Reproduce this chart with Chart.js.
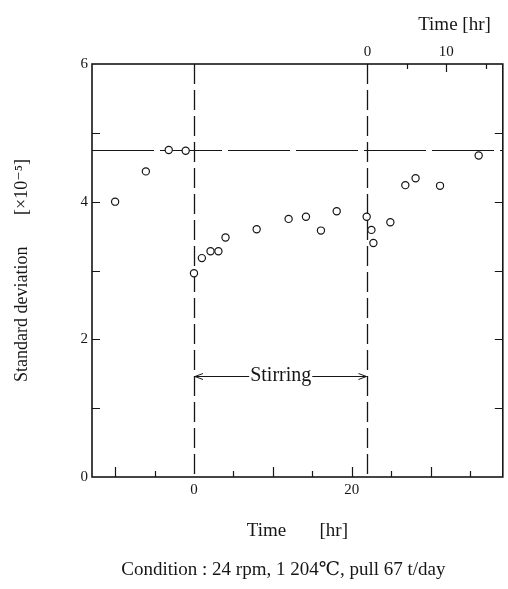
<!DOCTYPE html>
<html>
<head>
<meta charset="utf-8">
<script src="https://cdn.jsdelivr.net/npm/chart.js@4/dist/chart.umd.min.js"></script>
<style>
  html, body { margin: 0; padding: 0; background: #fff; }
  canvas { display: block; }
</style>
</head>
<body>
<canvas id="chart" width="508" height="589"></canvas>
<script>
// sampling time [hr] and standard deviation [x10^-5]
const times  = [-10, -6.1, -3.2, -1.05, 0, 1, 2.1, 3.1, 4, 7.95, 12, 14.2, 16.1, 18.1, 21.9, 22.5, 22.75, 24.9, 26.8, 28.1, 31.2, 36.1];
const stdDev = [4.0, 4.44, 4.75, 4.74, 2.96, 3.18, 3.28, 3.28, 3.48, 3.60, 3.75, 3.78, 3.58, 3.86, 3.78, 3.59, 3.40, 3.70, 4.24, 4.34, 4.23, 4.67];

const bottomTickLabels = [0, 20];
const topTickLabels = [0, 10];
const leftTickLabels = [0, 2, 4, 6];
const bottomTicks = [-10, -5, 5, 10, 15, 20, 25, 30, 35];
const topTicks = [5, 10, 15];
const sideTicks = [1, 2, 3, 4, 5];

const stirStart = 0;
const stirEnd = 22;      // top axis restarts at end of stirring
const baseLevel = 4.75;  // level before stirring
const stirLabelLevel = 1.47;

const xMin = -12.93, xMax = 39.16;
const serif = '"Liberation Serif", "DejaVu Serif", serif';
const ink = '#161616';

const decorations = {
  id: 'decorations',
  beforeDatasetsDraw(chart) {
    const { ctx, chartArea: a, scales } = chart;
    const x = scales.x, x2 = scales.x2, y = scales.y;
    ctx.save();
    ctx.strokeStyle = ink;

    // dashed reference lines
    ctx.lineWidth = 1.3;
    ctx.setLineDash([20, 6]);
    [stirStart, stirEnd].forEach(t => {
      const px = Math.round(x.getPixelForValue(t)) + 0.5;
      ctx.beginPath();
      ctx.moveTo(px, a.top);
      ctx.lineTo(px, a.bottom);
      ctx.stroke();
    });
    ctx.lineWidth = 1.1;
    ctx.setLineDash([62, 6]);
    const py = Math.round(y.getPixelForValue(baseLevel)) + 0.5;
    ctx.beginPath();
    ctx.moveTo(a.left, py);
    ctx.lineTo(a.right, py);
    ctx.stroke();
    ctx.setLineDash([]);

    // inward tick marks
    ctx.lineWidth = 1.2;
    ctx.beginPath();
    bottomTicks.forEach(t => {
      const px = Math.round(x.getPixelForValue(t)) + 0.5;
      const len = t % 10 === 0 ? 10 : 6;
      ctx.moveTo(px, a.bottom);
      ctx.lineTo(px, a.bottom - len);
    });
    topTicks.forEach(t => {
      const px = Math.round(x2.getPixelForValue(t)) + 0.5;
      const len = t % 10 === 0 ? 8 : 5;
      ctx.moveTo(px, a.top);
      ctx.lineTo(px, a.top + len);
    });
    sideTicks.forEach(v => {
      const p = Math.round(y.getPixelForValue(v)) + 0.5;
      ctx.moveTo(a.left, p);
      ctx.lineTo(a.left + 8, p);
      ctx.moveTo(a.right, p);
      ctx.lineTo(a.right - 8, p);
    });
    ctx.stroke();

    // frame
    ctx.lineWidth = 1.6;
    ctx.strokeRect(a.left, a.top, a.right - a.left, a.bottom - a.top);
    ctx.restore();
  },
  afterDraw(chart) {
    const { ctx, chartArea: a, scales } = chart;
    const x = scales.x, y = scales.y;
    ctx.save();
    ctx.fillStyle = ink;
    ctx.strokeStyle = ink;

    // stirring period arrow
    const x0 = x.getPixelForValue(stirStart) + 1;
    const x1 = x.getPixelForValue(stirEnd) - 1;
    const ay = Math.round(y.getPixelForValue(stirLabelLevel)) + 0.5;
    ctx.font = '20px ' + serif;
    ctx.textAlign = 'center';
    ctx.textBaseline = 'middle';
    const label = 'Stirring';
    const mid = (x0 + x1) / 2;
    const half = ctx.measureText(label).width / 2 + 1;
    ctx.fillText(label, mid, ay - 1);
    ctx.lineWidth = 1;
    ctx.beginPath();
    ctx.moveTo(x0, ay); ctx.lineTo(mid - half, ay);
    ctx.moveTo(mid + half, ay); ctx.lineTo(x1, ay);
    ctx.moveTo(x0 + 8, ay - 3); ctx.lineTo(x0, ay); ctx.lineTo(x0 + 8, ay + 3);
    ctx.moveTo(x1 - 8, ay - 3); ctx.lineTo(x1, ay); ctx.lineTo(x1 - 8, ay + 3);
    ctx.stroke();

    // top axis caption
    ctx.font = '19px ' + serif;
    ctx.textAlign = 'right';
    ctx.fillText('Time [hr]', a.right - 12, 25);

    // experiment condition
    ctx.textAlign = 'center';
    ctx.fillText('Condition : 24 rpm, 1 204\u2103, pull 67 t/day', (a.left + a.right) / 2 - 14, 570);
    ctx.restore();
  }
};

new Chart(document.getElementById('chart'), {
  type: 'scatter',
  data: {
    datasets: [{
      data: times.map((t, i) => ({ x: t, y: stdDev[i] })),
      xAxisID: 'x',
      yAxisID: 'y',
      pointStyle: 'circle',
      pointRadius: 3.6,
      pointBorderWidth: 1.2,
      pointBorderColor: ink,
      pointBackgroundColor: '#fff',
      showLine: false
    }]
  },
  options: {
    responsive: false,
    animation: false,
    layout: { padding: { left: 0, right: 1, top: 0, bottom: 0 } },
    plugins: { legend: { display: false }, tooltip: { enabled: false } },
    scales: {
      x: {
        type: 'linear',
        position: 'bottom',
        min: xMin,
        max: xMax,
        afterFit: s => { s.height = 112; },
        grid: { display: false, drawTicks: false },
        border: { display: false },
        ticks: {
          stepSize: 5,
          autoSkip: false,
          maxRotation: 0,
          padding: 4,
          color: ink,
          font: { family: serif, size: 15 },
          callback: v => bottomTickLabels.includes(v) ? String(v) : ''
        },
        title: {
          display: true,
          text: 'Time       [hr]',
          color: ink,
          font: { family: serif, size: 19 },
          padding: { top: 0, bottom: 47 }
        }
      },
      x2: {
        type: 'linear',
        position: 'top',
        min: xMin - stirEnd,
        max: xMax - stirEnd,
        afterFit: s => { s.height = 64; },
        grid: { display: false, drawTicks: false },
        border: { display: false },
        ticks: {
          stepSize: 5,
          autoSkip: false,
          maxRotation: 0,
          padding: 3,
          color: ink,
          font: { family: serif, size: 15 },
          callback: v => topTickLabels.includes(v) ? String(v) : ''
        }
      },
      y: {
        type: 'linear',
        position: 'left',
        min: 0,
        max: 6,
        afterFit: s => { s.width = 92; },
        grid: { display: false, drawTicks: false },
        border: { display: false },
        ticks: {
          stepSize: 1,
          padding: 4,
          color: ink,
          font: { family: serif, size: 15 },
          callback: v => leftTickLabels.includes(v) ? String(v) : ''
        },
        title: {
          display: true,
          text: 'Standard deviation       [\u00d710\u207b\u2075]',
          color: ink,
          font: { family: serif, size: 18 },
          padding: { top: 11, bottom: 0 }
        }
      }
    }
  },
  plugins: [decorations]
});
</script>
</body>
</html>
